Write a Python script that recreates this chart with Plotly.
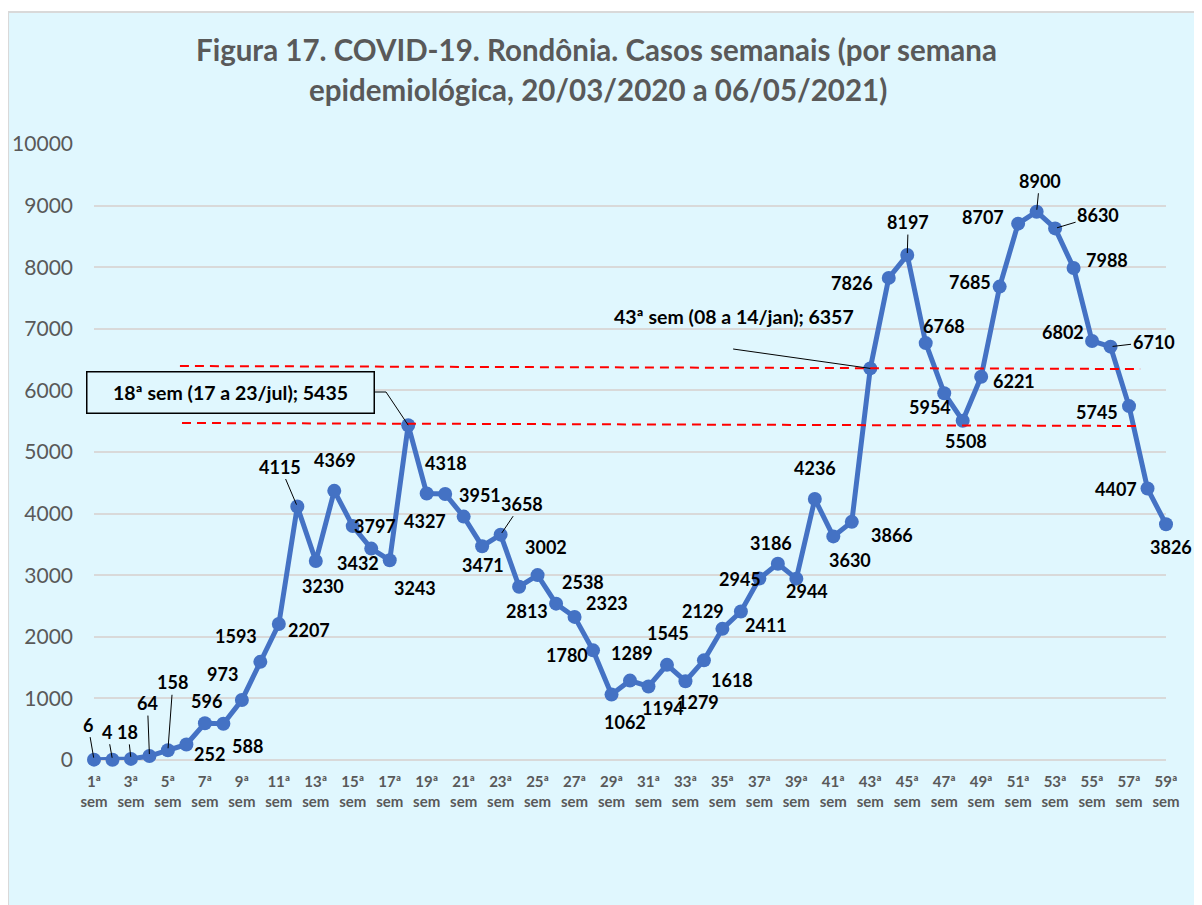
import plotly.graph_objects as go

# Semanas epidemiológicas e casos semanais (Rondônia)
semanas = [f"{i}ª sem" for i in range(1, 60)]
casos = [6, 4, 18, 64, 158, 252, 596, 588, 973, 1593,
         2207, 4115, 3230, 4369, 3797, 3432, 3243, 5435, 4327, 4318,
         3951, 3471, 3658, 2813, 3002, 2538, 2323, 1780, 1062, 1289,
         1194, 1545, 1279, 1618, 2129, 2411, 2945, 3186, 2944, 4236,
         3630, 3866, 6357, 7826, 8197, 6768, 5954, 5508, 6221, 7685,
         8707, 8900, 8630, 7988, 6802, 6710, 5745, 4407, 3826]
tick_sem = semanas[::2]
tick_txt = [s.replace(" ", "<br>") for s in tick_sem]

destaque_18 = "18ª sem (17 a 23/jul); 5435"
destaque_43 = "43ª sem (08 a 14/jan); 6357"

FONT = "Lato"
GRAY = "#595959"
BG = "#E0F7FE"
BLUE = "#4472C4"

# label offsets in pixels (dx, dy, leader line); None = special callout
offs = [(-6, -35, 1), (-5, -28, 1), (-3, -27, 1), (-2, -53, 1), (5, -68, 1),
        (23, 10, 0), (2, -22, 0), (24, 22, 0), (-19, -26, 0), (-24, -26, 0),
        (30, 6, 0), (-17, -40, 1), (7, 25, 0), (1, -31, 0), (22, 0, 0),
        (-13, 14, 0), (25, 28, 0), None, (-2, 28, 0), (1, -31, 0),
        (16, -22, 0), (1, 19, 0), (21, -31, 1), (8, 24, 0), (8, -28, 0),
        (27, -22, 0), (32, -14, 0), (-26, 5, 0), (13, 27, 0), (2, -28, 0),
        (15, 22, 0), (1, -32, 0), (13, 21, 0), (28, 20, 0), (-19, -18, 0),
        (25, 14, 0), (-19, 0, 0), (-7, -21, 0), (11, 12, 0), (0, -31, 0),
        (17, 24, 0), (40, 13, 0), None, (-37, 5, 0), (1, -33, 1),
        (18, -17, 0), (-14, 14, 0), (3, 20, 0), (33, 4, 0), (-30, -5, 0),
        (-35, -7, 0), (3, -31, 1), (43, -13, 1), (33, -8, 0), (-29, -9, 0),
        (43, -5, 1), (-32, 6, 0), (-32, 0, 0), (5, 23, 0)]

fig = go.Figure()
fig.add_trace(go.Scatter(
    x=semanas, y=casos, mode="lines+markers",
    line=dict(color=BLUE, width=5),
    marker=dict(color=BLUE, size=14),
    cliponaxis=False, hoverinfo="x+y", showlegend=False,
))

lbl_font = dict(family=FONT, size=18, color="black", weight="bold")
call_font = dict(family=FONT, size=19.5, color="black", weight="bold")
anns = []
for s, v, o in zip(semanas, casos, offs):
    if o is None:
        continue
    dx, dy, lead = o
    if lead:
        anns.append(dict(x=s, y=v, text=str(v), showarrow=True, ax=dx, ay=dy,
                         arrowhead=0, arrowwidth=1, arrowcolor="black",
                         standoff=2, font=lbl_font))
    else:
        anns.append(dict(x=s, y=v, text=str(v), showarrow=False,
                         xshift=dx, yshift=-dy, font=lbl_font))

# callouts
anns.append(dict(x=7.36, y=5958, text=destaque_18, showarrow=False,
                 font=call_font, bordercolor="black", borderwidth=1.5,
                 bgcolor=BG, width=282, height=36, borderpad=2))
anns.append(dict(x=34.63, y=7192, text=destaque_43, showarrow=False,
                 font=call_font))

# title
title_font = dict(family=FONT, size=29.5, color=GRAY, weight="bold")
anns.append(dict(xref="paper", yref="paper", x=0.4692, y=1.1526,
                 xanchor="center", yanchor="middle",
                 text="Figura 17. COVID-19. Rondônia. Casos semanais (por semana",
                 showarrow=False, font=title_font))
anns.append(dict(xref="paper", yref="paper", x=0.4701, y=1.0877,
                 xanchor="center", yanchor="middle",
                 text="epidemiológica, 20/03/2020 a 06/05/2021)",
                 showarrow=False, font=title_font))

shapes = [
    # background panel
    dict(type="rect", xref="paper", yref="paper", x0=-0.0802, x1=1.05,
         y0=-0.26, y1=1.2143, fillcolor=BG, line=dict(color="#D9D9D9", width=2),
         layer="below"),
    # reference lines
    dict(type="line", x0=4.65, x1=56.6, y0=6396, y1=6347,
         line=dict(color="red", width=2, dash="9px,6px")),
    dict(type="line", x0=4.76, x1=56.7, y0=5471, y1=5422,
         line=dict(color="red", width=2, dash="9px,6px")),
    # leader lines of callouts
    dict(type="line", x0=15.2, x1=15.8, y0=5974, y1=5974, line=dict(color="black", width=1)),
    dict(type="line", x0=15.8, x1=17, y0=5974, y1=5435, line=dict(color="black", width=1)),
    dict(type="line", x0=34.58, x1=42, y0=6672, y1=6357, line=dict(color="black", width=1)),
]

fig.update_layout(
    width=1194, height=897, autosize=False,
    margin=dict(l=86, r=36, t=136, b=145),
    paper_bgcolor="white", plot_bgcolor="rgba(0,0,0,0)",
    annotations=anns, shapes=shapes,
    xaxis=dict(type="category", range=[0, 58], tickmode="array",
               tickvals=tick_sem, ticktext=tick_txt, showgrid=False,
               zeroline=False, showline=False, ticks="", automargin=False,
               ticklabelstandoff=11,
               tickfont=dict(family=FONT, size=15, color=GRAY, weight="bold")),
    yaxis=dict(range=[0, 10000], dtick=1000, tickformat="d", automargin=False,
               showgrid=True, gridcolor="#D9D9D9",
               gridwidth=2, zeroline=True, zerolinecolor="#D9D9D9", zerolinewidth=2,
               showline=False, ticks="", ticklabelstandoff=20,
               tickfont=dict(family=FONT, size=21, color=GRAY)),
)

fig.write_html("out.html")
